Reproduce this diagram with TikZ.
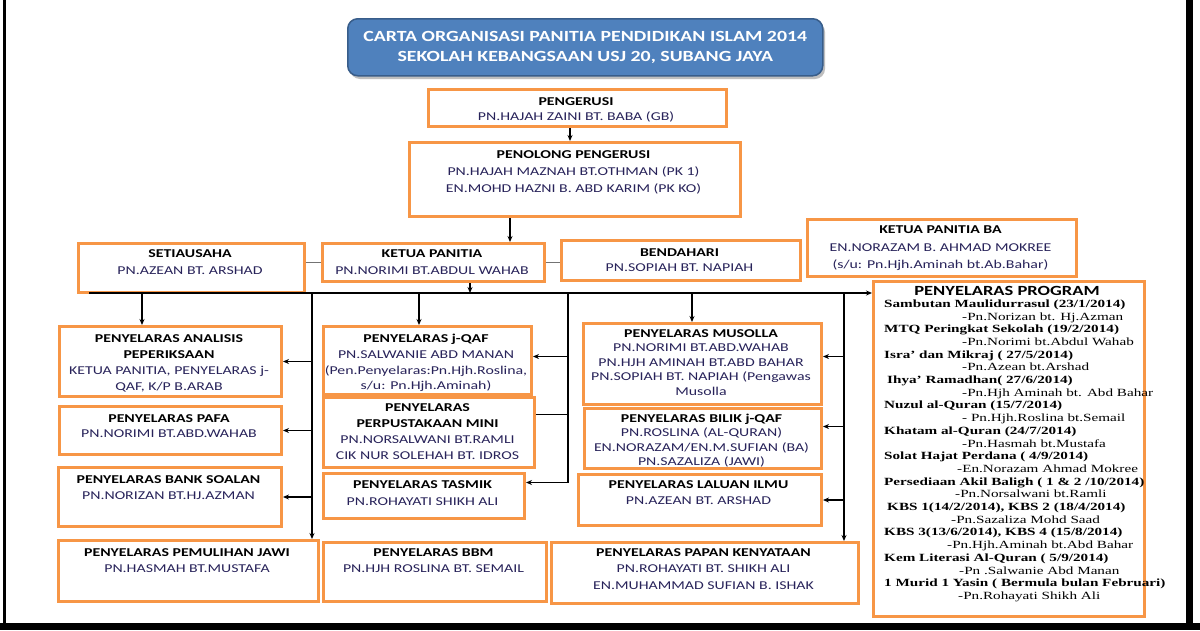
\documentclass[tikz,border=0pt]{standalone}
\usepackage{fontspec}
\setmainfont[FakeStretch=1.32]{Carlito}
\newfontfamily\titlefont[FakeStretch=1.28]{Carlito}
\newfontfamily\progfont[FakeStretch=1.38]{Liberation Serif}
\usetikzlibrary{arrows.meta,calc}
\definecolor{orng}{RGB}{247,150,70}
\definecolor{titleblue}{RGB}{79,129,189}
\definecolor{titleedge}{RGB}{56,93,138}
\definecolor{navy}{RGB}{40,35,90}
\newcommand\nm[1]{\textcolor{navy}{#1}}
\newcommand\OB[5]{\node[obox, minimum width={#4-#2}, minimum height={#5-#3}] (#1) at (#2,#3) {};}
\begin{document}
\begin{tikzpicture}[x=1pt,y=-1pt,
  obox/.style={draw=orng, line width=3pt, fill=white, inner sep=0pt, anchor=north west},
  tx/.style={align=center, inner sep=0pt, anchor=north, font=\fontsize{12}{16}\selectfont},
  txs/.style={tx, font=\fontsize{12}{14.5}\selectfont},
  arr/.style={-{Stealth[length=6pt,width=5pt]}, line width=1.1pt},
  ln/.style={line width=1.1pt},
  gln/.style={line width=0.9pt, draw=black!55}]
\useasboundingbox (0,0) rectangle (1200,630);
\fill[white] (0,0) rectangle (1200,630);
% frame
\draw[line width=3pt] (4,0) -- (4,626);
\draw[line width=7pt] (1189,0) -- (1189,630);
\draw[line width=7pt] (0,626) -- (1200,626);
% title
\fill[black!25, rounded corners=10pt] (350,22) rectangle ++(475,57);
\node[draw=titleedge, line width=1.5pt, fill=titleblue, rounded corners=10pt,
  minimum width=475pt, minimum height=57pt, anchor=north west, inner sep=0pt] (title) at (347,18) {};
\node[align=center, inner sep=0pt, text=white, font=\titlefont\bfseries\fontsize{15.5}{20}\selectfont] (titlet) at (title.center)
  {CARTA ORGANISASI PANITIA PENDIDIKAN ISLAM 2014\\SEKOLAH KEBANGSAAN USJ 20, SUBANG JAYA};
% boxes
\OB{pengerusi}{427}{88}{725}{125}
\node[tx, font=\fontsize{12}{15}\selectfont] (pengerusit) at (576,97) {\textbf{PENGERUSI}\\\nm{PN.HAJAH ZAINI BT. BABA (GB)}};
\OB{penolong}{408}{141}{739}{215}
\node[tx, font=\fontsize{12}{17}\selectfont] (penolongt) at (573.5,150) {\textbf{PENOLONG PENGERUSI}\\\nm{PN.HAJAH MAZNAH BT.OTHMAN (PK 1)}\\\nm{EN.MOHD HAZNI B. ABD KARIM (PK KO)}};
\OB{setiausaha}{77}{242}{303}{291}
\node[tx, font=\fontsize{12}{17}\selectfont] (setiausahat) at (190,249) {\textbf{SETIAUSAHA}\\\nm{PN.AZEAN BT. ARSHAD}};
\OB{ketua}{321}{242}{543}{280}
\node[tx, font=\fontsize{12}{17}\selectfont] (ketuat) at (432,250) {\textbf{KETUA PANITIA}\\\nm{PN.NORIMI BT.ABDUL WAHAB}};
\OB{bendahari}{560}{239}{799}{279}
\node[tx, font=\fontsize{12}{14.5}\selectfont] (bendaharit) at (679.5,249) {\textbf{BENDAHARI}\\\nm{PN.SOPIAH BT. NAPIAH}};
\OB{ketuaba}{806}{218}{1075}{275}
\node[tx, font=\fontsize{12}{17.5}\selectfont] (ketuabat) at (940.5,226) {\textbf{KETUA PANITIA BA}\\\nm{EN.NORAZAM B. AHMAD MOKREE}\\\nm{(s/u: Pn.Hjh.Aminah bt.Ab.Bahar)}};
\OB{analisis}{58}{325}{280}{395}
\node[tx] (analisist) at (169,334) {\textbf{PENYELARAS ANALISIS}\\\textbf{PEPERIKSAAN}\\\nm{KETUA PANITIA, PENYELARAS j-}\\\nm{QAF, K/P B.ARAB}};
\OB{pafa}{58}{405}{280}{453}
\node[tx, font=\fontsize{12}{15}\selectfont] (pafat) at (169,414) {\textbf{PENYELARAS PAFA}\\\nm{PN.NORIMI BT.ABD.WAHAB}};
\OB{bank}{57}{466}{280}{525}
\node[tx] (bankt) at (168.5,475) {\textbf{PENYELARAS BANK SOALAN}\\\nm{PN.NORIZAN BT.HJ.AZMAN}};
\OB{pemulihan}{57}{539}{317}{600}
\node[tx] (pemulihant) at (187,548) {\textbf{PENYELARAS PEMULIHAN JAWI}\\\nm{PN.HASMAH BT.MUSTAFA}};
\OB{jqaf}{322}{325}{530}{393}
\node[tx, font=\fontsize{12}{15.7}\selectfont] (jqaft) at (426,334) {\textbf{PENYELARAS j-QAF}\\\nm{PN.SALWANIE ABD MANAN}\\\nm{(Pen.Penyelaras:Pn.Hjh.Roslina,}\\\nm{s/u: Pn.Hjh.Aminah)}};
\OB{perpus}{322}{396}{533}{466}
\node[tx] (perpust) at (427.5,403) {\textbf{PENYELARAS}\\\textbf{PERPUSTAKAAN MINI}\\\nm{PN.NORSALWANI BT.RAMLI}\\\nm{CIK NUR SOLEHAH BT. IDROS}};
\OB{tasmik}{322}{472}{523}{517}
\node[tx, font=\fontsize{12}{17}\selectfont] (tasmikt) at (422.5,480) {\textbf{PENYELARAS TASMIK}\\\nm{PN.ROHAYATI SHIKH ALI}};
\OB{bbm}{322}{541}{545}{600}
\node[tx] (bbmt) at (433.5,548) {\textbf{PENYELARAS BBM}\\\nm{PN.HJH ROSLINA BT. SEMAIL}};
\OB{musolla}{582}{322}{820}{403}
\node[txs] (musollat) at (701,329) {\textbf{PENYELARAS MUSOLLA}\\\nm{PN.NORIMI BT.ABD.WAHAB}\\\nm{PN.HJH AMINAH BT.ABD BAHAR}\\\nm{PN.SOPIAH BT. NAPIAH (Pengawas}\\\nm{Musolla}};
\OB{bilik}{583}{407}{820}{467}
\node[tx, font=\fontsize{12}{14.3}\selectfont] (bilikt) at (701.5,414) {\textbf{PENYELARAS BILIK j-QAF}\\\nm{PN.ROSLINA (AL-QURAN)}\\\nm{EN.NORAZAM/EN.M.SUFIAN (BA)}\\\nm{PN.SAZALIZA (JAWI)}};
\OB{laluan}{577}{473}{820}{524}
\node[tx] (laluant) at (698.5,480) {\textbf{PENYELARAS LALUAN ILMU}\\\nm{PN.AZEAN BT. ARSHAD}};
\OB{papan}{550}{541}{857}{602}
\node[tx, font=\fontsize{12}{16.5}\selectfont] (papant) at (703.5,548) {\textbf{PENYELARAS PAPAN KENYATAAN}\\\nm{PN.ROHAYATI BT. SHIKH ALI}\\\nm{EN.MUHAMMAD SUFIAN B. ISHAK}};
\OB{program}{872}{280}{1143}{615}
\node[tx, font=\fontsize{14}{15}\selectfont] (programt) at (1007,286) {\textbf{PENYELARAS PROGRAM}};
\node[inner sep=0pt, anchor=north west, align=left, font=\progfont\fontsize{11}{12.7}\selectfont] (programl) at (884,299.5) {%
\textbf{Sambutan Maulidurrasul (23/1/2014)}\\
\hspace*{78pt}-Pn.Norizan bt. Hj.Azman\\
\textbf{MTQ Peringkat Sekolah (19/2/2014)}\\
\hspace*{78pt}-Pn.Norimi bt.Abdul Wahab\\
\textbf{Isra’ dan Mikraj ( 27/5/2014)}\\
\hspace*{78pt}-Pn.Azean bt.Arshad\\
\hspace*{3pt}\textbf{Ihya’ Ramadhan( 27/6/2014)}\\
\hspace*{78pt}-Pn.Hjh Aminah bt. Abd Bahar\\
\textbf{Nuzul al-Quran (15/7/2014)}\\
\hspace*{78pt}- Pn.Hjh.Roslina bt.Semail\\
\textbf{Khatam al-Quran (24/7/2014)}\\
\hspace*{78pt}-Pn.Hasmah bt.Mustafa\\
\textbf{Solat Hajat Perdana ( 4/9/2014)}\\
\hspace*{73pt}-En.Norazam Ahmad Mokree\\
\textbf{Persediaan Akil Baligh ( 1 \& 2 /10/2014)}\\
\hspace*{71pt}-Pn.Norsalwani bt.Ramli\\
\hspace*{3pt}\textbf{KBS 1(14/2/2014), KBS 2 (18/4/2014)}\\
\hspace*{67pt}-Pn.Sazaliza Mohd Saad\\
\textbf{KBS 3(13/6/2014), KBS 4 (15/8/2014)}\\
\hspace*{63pt}-Pn.Hjh.Aminah bt.Abd Bahar\\
\textbf{Kem Literasi Al-Quran ( 5/9/2014)}\\
\hspace*{75pt}-Pn .Salwanie Abd Manan\\
\textbf{1 Murid 1 Yasin ( Bermula bulan Februari)}\\
\hspace*{74pt}-Pn.Rohayati Shikh Ali};
% coordinates
\coordinate (busL) at (89,293);
\coordinate (v142) at (142,0);
\coordinate (v312) at (312,0);
\coordinate (v419) at (419,0);
\coordinate (v470) at (470,0);
\coordinate (v510) at (510,0);
\coordinate (v568) at (568,0);
\coordinate (v570) at (570,0);
\coordinate (v692) at (692,0);
\coordinate (v844) at (844,0);
% connectors top
\draw[arr] (pengerusi.south -| v570) -- (penolong.north -| v570);
\draw[arr] (penolong.south -| v510) -- (ketua.north -| v510);
\draw[gln] (ketua.west -| setiausaha.east) -- (ketua.west);
\draw[gln] (ketua.east) -- (ketua.east -| bendahari.west);
\draw[arr] (ketua.south -| v470) -- (busL -| v470);
\draw[arr] (busL) -- (busL -| program.west);
% drops
\draw[arr] (busL -| v142) -- (analisis.north -| v142);
\draw[arr] (busL -| v312) -- (pemulihan.north -| v312);
\draw[arr] (analisis.east -| v312) -- (analisis.east);
\draw[arr] (pafa.east -| v312) -- (pafa.east);
\draw[arr] (bank.east -| v312) -- (bank.east);
\draw[arr] (busL -| v419) -- (jqaf.north -| v419);
\draw[ln] (busL -| v568) -- ([yshift=13.5pt]tasmik.east -| v568);
\draw[arr] ([yshift=4pt]jqaf.east -| v568) -- ([yshift=4pt]jqaf.east);
\draw[ln] ([yshift=18pt]perpus.east -| v568) -- ([yshift=18pt]perpus.east);
\draw[arr] ([yshift=13.5pt]tasmik.east -| v568) -- ([yshift=13.5pt]tasmik.east);
\draw[arr] (busL -| v692) -- (musolla.north -| v692);
\draw[arr] (busL -| v844) -- (papan.north -| v844);
\draw[arr] ([yshift=7.5pt]musolla.east -| v844) -- ([yshift=7.5pt]musolla.east);
\draw[arr] ([yshift=12pt]bilik.east -| v844) -- ([yshift=12pt]bilik.east);
\draw[arr] (laluan.east -| v844) -- (laluan.east);
\end{tikzpicture}
\end{document}
